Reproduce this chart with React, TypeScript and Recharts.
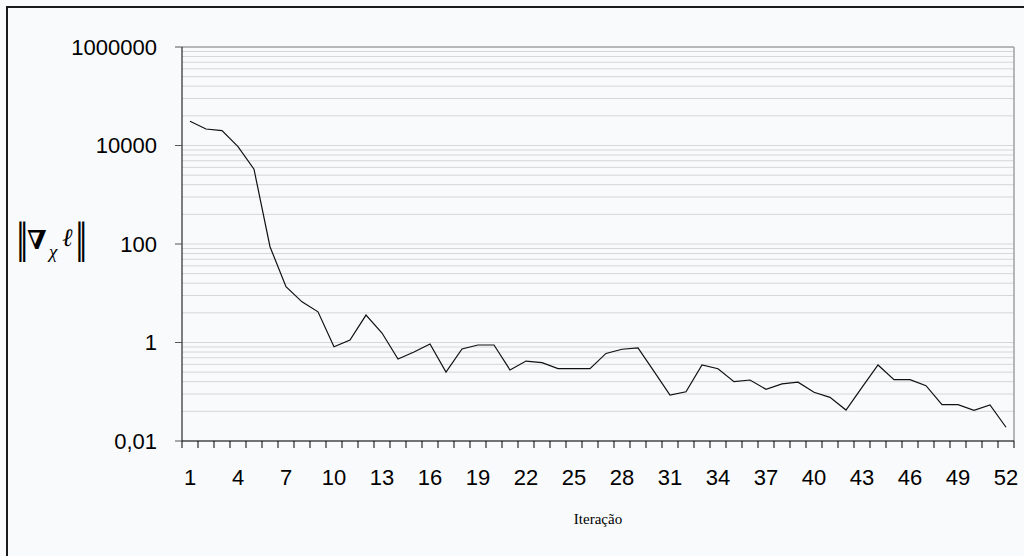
import { CartesianGrid, Line, LineChart, ReferenceLine, XAxis, YAxis } from 'recharts'

// norma do gradiente por iteração
const valoresGradiente = [
  31000, 21600, 20000, 9500, 3300, 88, 13.6, 6.7, 4.2, 0.82,
  1.12, 3.6, 1.56, 0.46, 0.64, 0.93, 0.25, 0.74, 0.89, 0.89,
  0.277, 0.42, 0.39, 0.294, 0.294, 0.294, 0.6, 0.73, 0.78, 0.26,
  0.086, 0.1, 0.35, 0.294, 0.16, 0.173, 0.112, 0.144, 0.156, 0.0975,
  0.077, 0.0425, 0.123, 0.35, 0.176, 0.176, 0.133, 0.0546, 0.0546, 0.042,
  0.054, 0.019,
]

const rotulosX = [1, 4, 7, 10, 13, 16, 19, 22, 25, 28, 31, 34, 37, 40, 43, 46, 49, 52]
const ticksY = [0.01, 1, 100, 10000, 1000000]
const multiplosGrade = [4, 9, 16, 25, 36, 49, 64, 81]

const dados = valoresGradiente.map((valor, i) => ({ iteracao: i + 1, valor }))
const divisoesX = valoresGradiente.map((_, i) => i + 0.5).concat([valoresGradiente.length + 0.5])
const ticksX = [...divisoesX, ...rotulosX]
const linhasGrade = ticksY
  .slice(0, -1)
  .flatMap((base) => [base, ...multiplosGrade.map((m) => base * m)])

const fonteEixo = '"Liberation Sans", Arial, sans-serif'
const fonteSerif = '"Liberation Serif", "Times New Roman", serif'

function TickX(props: any) {
  const { x, y, payload } = props
  const v = payload.value as number
  if (v % 1 !== 0) {
    return <line x1={x} x2={x} y1={y} y2={y + 7} stroke="#000" strokeWidth={1} />
  }
  return (
    <text x={x} y={y + 36} dy="0.355em" textAnchor="middle" fontSize={22} fontFamily={fonteEixo} fill="#000">
      {v}
    </text>
  )
}

function formatarY(valor: number) {
  return String(valor).replace('.', ',')
}

// rótulo do eixo Y: ||∇_χ ℓ||
function RotuloNorma() {
  return (
    <svg width={100} height={80} style={{ position: 'absolute', left: 0, top: 210 }}>
      <g fontFamily={fonteSerif} fill="#000">
        <text x={16} y={43} fontSize={44} letterSpacing={-5}>||</text>
        <text x={27} y={39} fontSize={26} fontWeight="bold" fontFamily='"DejaVu Serif", serif'>∇</text>
        <text x={49} y={48} fontSize={19} fontStyle="italic">χ</text>
        <text x={62} y={36} fontSize={25} fontStyle="italic">ℓ</text>
        <text x={75} y={43} fontSize={44} letterSpacing={-5}>||</text>
      </g>
    </svg>
  )
}

export default function App() {
  return (
    <div style={{ position: 'fixed', inset: 0, overflow: 'hidden', background: '#f9fafc' }}>
      <div
        style={{
          position: 'absolute',
          left: 6,
          top: 6,
          width: 1100,
          height: 620,
          border: '2px solid #1a1a1a',
        }}
      />
      <div style={{ position: 'absolute', left: 0, top: 0 }}>
        <LineChart width={1024} height={556} data={dados} margin={{ top: 47, right: 10, bottom: 85, left: 0 }}>
          <CartesianGrid vertical={false} horizontalValues={linhasGrade} stroke="#d6d6d6" strokeWidth={1} />
          <XAxis
            dataKey="iteracao"
            type="number"
            domain={[0.5, 52.5]}
            ticks={ticksX}
            interval={0}
            height={30}
            tick={<TickX />}
            tickLine={false}
            tickSize={0}
            tickMargin={0}
            axisLine={{ stroke: '#000' }}
            allowDataOverflow
          />
          <YAxis
            type="number"
            scale="log"
            domain={[0.01, 1000000]}
            ticks={ticksY}
            interval={0}
            width={182}
            tickSize={7}
            tickMargin={18}
            tickFormatter={formatarY}
            tick={{ fontSize: 22, fontFamily: fonteEixo, fill: '#000' }}
            tickLine={{ stroke: '#555' }}
            axisLine={{ stroke: '#000' }}
            allowDataOverflow
          />
          <ReferenceLine y={1000000} stroke="#a0a0a0" strokeWidth={1.5} />
          <ReferenceLine x={52.5} stroke="#a0a0a0" strokeWidth={1.5} />
          <Line
            type="linear"
            dataKey="valor"
            stroke="#111"
            strokeWidth={1.2}
            dot={false}
            isAnimationActive={false}
          />
        </LineChart>
      </div>
      <RotuloNorma />
      <div
        style={{
          position: 'absolute',
          left: 598,
          top: 519,
          transform: 'translate(-50%, -50%)',
          fontFamily: fonteSerif,
          fontSize: 15,
          color: '#000',
        }}
      >
        Iteração
      </div>
    </div>
  )
}
